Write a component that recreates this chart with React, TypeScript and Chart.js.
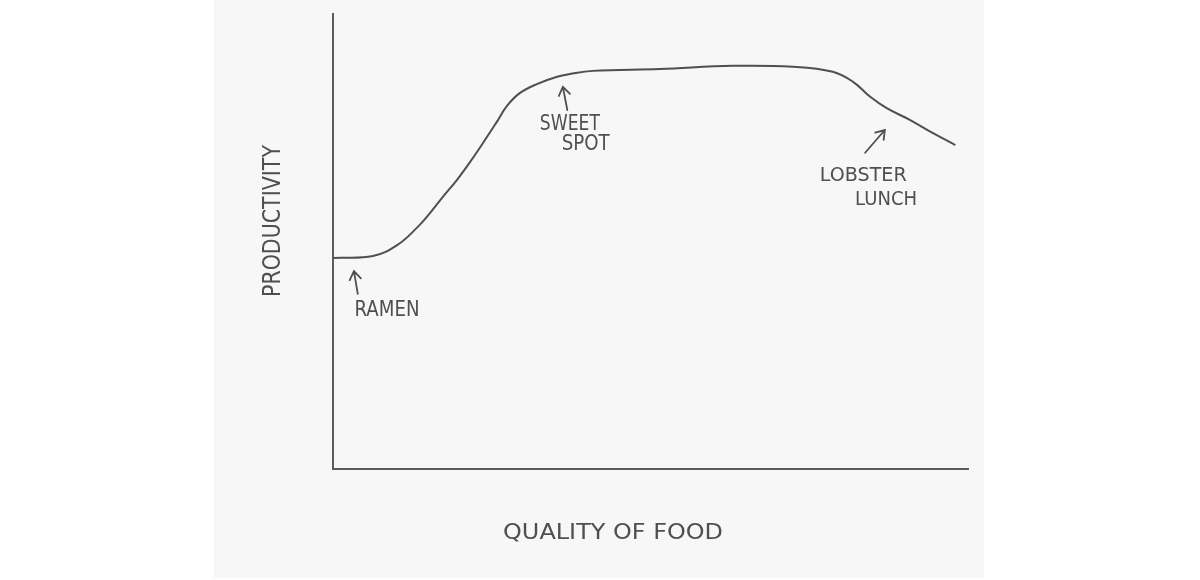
import { useEffect, useRef } from "react";
import { Chart, registerables } from "chart.js";

Chart.register(...registerables);

// ---- data (0..100 on both axes) ----
const QUALITY = [0, 6.3, 10.1, 13.2, 15.3, 17.3, 19.5, 21.6, 23.6, 25.8, 27.4, 29.4, 32.1, 35.3, 37.3, 40.9, 51.5, 63.0, 72.4, 78.7, 81.9, 84.6, 87.2, 90.9, 94.5, 98.0];
const PRODUCTIVITY = [46.4, 46.8, 49.2, 53.0, 56.3, 59.8, 63.5, 67.5, 71.6, 76.3, 79.8, 82.6, 84.6, 86.2, 86.8, 87.5, 87.9, 88.6, 88.4, 87.3, 85.1, 81.8, 79.3, 76.7, 73.8, 71.2];

const X_TITLE = "QUALITY OF FOOD";
const Y_TITLE = "PRODUCTIVITY";

// annotations (text lines and their centres, in data units)
const NOTE_LINES = [["RAMEN"], ["SWEET", "SPOT"], ["LOBSTER", "LUNCH"]];
const NOTE_X = [[8.5], [37.3, 39.8], [83.5, 87.1]];
const NOTE_Y = [[34.9], [75.8, 71.4], [64.4, 59.1]];
const ARROW_TIP_X = [3.3, 36.2, 86.9];
const ARROW_TIP_Y = [43.5, 84.0, 74.5];
const ARROW_TAIL_X = [3.9, 36.9, 83.8];
const ARROW_TAIL_Y = [38.5, 78.9, 69.5];

// ---- styles ----
const INK = "#4f4f4f";
const FONT = '"DejaVu Sans", sans-serif';
const TEXT_STYLE: Record<string, { size: number; width: number }> = {
  RAMEN: { size: 22, width: 65 },
  SWEET: { size: 22, width: 60 },
  SPOT: { size: 21, width: 48 },
  LOBSTER: { size: 19, width: 87 },
  LUNCH: { size: 20, width: 62 },
  [X_TITLE]: { size: 21, width: 220 },
  [Y_TITLE]: { size: 25, width: 152 },
};

function fitText(ctx: CanvasRenderingContext2D, text: string, cx: number, cy: number, rot = 0) {
  const st = TEXT_STYLE[text];
  ctx.save();
  ctx.font = `${st.size}px ${FONT}`;
  ctx.fillStyle = INK;
  ctx.textAlign = "center";
  ctx.textBaseline = "middle";
  const w = ctx.measureText(text).width;
  ctx.translate(cx, cy);
  if (rot) ctx.rotate(rot);
  ctx.scale(st.width / w, 1);
  ctx.fillText(text, 0, 0);
  ctx.restore();
}

const sketchPlugin = {
  id: "sketch",
  beforeDraw(chart: any) {
    const { ctx } = chart;
    ctx.save();
    ctx.fillStyle = "#ffffff";
    ctx.fillRect(0, 0, chart.width, chart.height);
    ctx.fillStyle = "#f7f7f7";
    ctx.fillRect(214, 0, 770, 578);
    ctx.restore();
  },
  afterDraw(chart: any) {
    const { ctx, scales, chartArea } = chart;
    const xs = scales.x;
    const ys = scales.y;
    NOTE_LINES.forEach((lines, i) => {
      lines.forEach((t, j) => {
        fitText(ctx, t, xs.getPixelForValue(NOTE_X[i][j]), ys.getPixelForValue(NOTE_Y[i][j]));
      });
      const tx = xs.getPixelForValue(ARROW_TIP_X[i]);
      const ty = ys.getPixelForValue(ARROW_TIP_Y[i]);
      const bx = xs.getPixelForValue(ARROW_TAIL_X[i]);
      const by = ys.getPixelForValue(ARROW_TAIL_Y[i]);
      const ang = Math.atan2(ty - by, tx - bx);
      const head = 10;
      ctx.save();
      ctx.strokeStyle = INK;
      ctx.lineWidth = 1.8;
      ctx.lineCap = "round";
      ctx.beginPath();
      ctx.moveTo(bx, by);
      ctx.lineTo(tx, ty);
      ctx.moveTo(tx - head * Math.cos(ang - 0.6), ty - head * Math.sin(ang - 0.6));
      ctx.lineTo(tx, ty);
      ctx.lineTo(tx - head * Math.cos(ang + 0.6), ty - head * Math.sin(ang + 0.6));
      ctx.stroke();
      ctx.restore();
    });
    fitText(ctx, X_TITLE, xs.getPixelForValue(44.1), chartArea.bottom + 65);
    fitText(ctx, Y_TITLE, chartArea.left - 60, ys.getPixelForValue(54.5), -Math.PI / 2);
  },
};

export default function App() {
  const ref = useRef<HTMLCanvasElement | null>(null);
  useEffect(() => {
    document.body.style.margin = "0";
    const canvas = ref.current!;
    const chart = new Chart(canvas, {
      type: "line",
      data: {
        datasets: [
          {
            data: QUALITY.map((q, i) => ({ x: q, y: PRODUCTIVITY[i] })),
            borderColor: INK,
            borderWidth: 2,
            pointRadius: 0,
            tension: 0.4,
            fill: false,
          },
        ],
      },
      options: {
        animation: false,
        responsive: false,
        devicePixelRatio: 1,
        events: [],
        layout: { padding: { left: 325, right: 232, top: 14, bottom: 103 } },
        plugins: { legend: { display: false }, tooltip: { enabled: false } },
        scales: {
          x: {
            type: "linear",
            min: 0,
            max: 100,
            grid: { display: false },
            ticks: { display: false },
            border: { display: true, color: "#5c5c5c", width: 2 },
          },
          y: {
            type: "linear",
            min: 0,
            max: 100,
            grid: { display: false },
            ticks: { display: false },
            border: { display: true, color: "#5c5c5c", width: 2 },
          },
        },
      },
      plugins: [sketchPlugin],
    });
    return () => chart.destroy();
  }, []);
  return (
    <div style={{ width: 1200, height: 580 }}>
      <canvas ref={ref} width={1200} height={580} style={{ display: "block" }} />
    </div>
  );
}
